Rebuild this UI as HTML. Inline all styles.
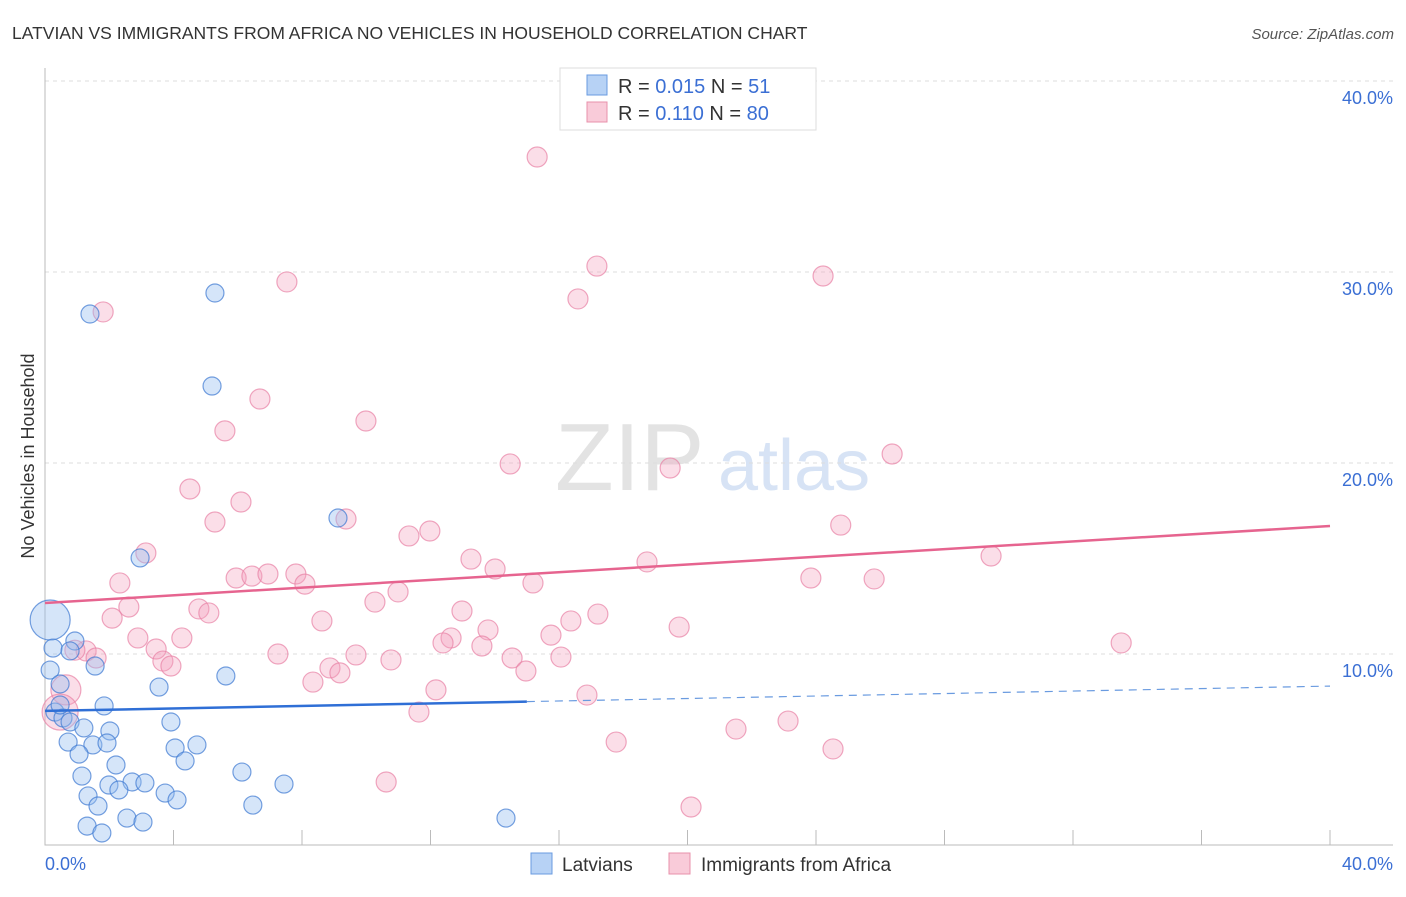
<!DOCTYPE html>
<html><head><meta charset="utf-8"><style>
body{margin:0;background:#fff;font-family:"Liberation Sans",sans-serif;}
svg text{font-family:"Liberation Sans",sans-serif;}
</style></head><body>
<svg id="chart" width="1406" height="892" viewBox="0 0 1406 892" xmlns="http://www.w3.org/2000/svg">
<text x="12" y="39" font-size="17.5" fill="#333">LATVIAN VS IMMIGRANTS FROM AFRICA NO VEHICLES IN HOUSEHOLD CORRELATION CHART</text>
<text x="1394" y="39" font-size="15" fill="#555" font-style="italic" text-anchor="end">Source: ZipAtlas.com</text>
<g>
<text x="555" y="490" font-size="96" fill="#e3e3e3" font-family="Liberation Serif">ZIP</text>
<text x="718" y="490" font-size="72" fill="#d7e3f5">atlas</text>
</g>
<g id="grid"></g>
<g id="axes"></g>
<g id="marks"></g>
<g>
<rect x="560" y="68" width="256" height="62" fill="#fff" stroke="#ddd"/>
<rect x="587" y="75" width="20" height="20" fill="#b7d2f5" stroke="#6a9be0"/>
<text x="618" y="93" font-size="20" fill="#333">R = <tspan fill="#3b6fd4">0.015</tspan>   N = <tspan fill="#3b6fd4"> 51</tspan></text>
<rect x="587" y="102" width="20" height="20" fill="#f9cbd9" stroke="#e890ab"/>
<text x="618" y="120" font-size="20" fill="#333">R = <tspan fill="#3b6fd4"> 0.110</tspan>   N = <tspan fill="#3b6fd4">80</tspan></text>
</g>
<g>
<rect x="531" y="853" width="21" height="21" fill="#b7d2f5" stroke="#6a9be0"/>
<text x="562" y="871" font-size="19" fill="#333">Latvians</text>
<rect x="669" y="853" width="21" height="21" fill="#f9cbd9" stroke="#e890ab"/>
<text x="701" y="871" font-size="19" fill="#333">Immigrants from Africa</text>
</g>
<text transform="translate(34,456) rotate(-90)" font-size="18" fill="#333" text-anchor="middle">No Vehicles in Household</text>
</svg>
<script>
const yTicks=[10,20,30,40];
const yTickLabels=["10.0%","20.0%","30.0%","40.0%"];
const xEndLabels=["0.0%","40.0%"];
const blueX=[1.40,5.29,5.20,9.12,2.96,0.16,0.25,0.93,0.78,0.16,1.56,0.47,3.55,5.63,1.84,0.31,0.56,0.78,1.21,2.02,3.92,0.72,1.49,1.93,4.73,4.05,1.06,2.21,4.36,1.15,6.13,1.99,2.71,3.11,1.34,2.30,3.74,7.44,4.11,1.65,6.47,2.55,14.35,1.31,3.05,1.77,0.47];
const blueY=[27.80,28.90,24.03,17.12,15.03,11.78,10.31,10.68,10.16,9.16,9.37,8.43,8.27,8.85,7.28,6.96,6.65,6.44,6.13,5.97,6.44,5.39,5.24,5.34,5.24,5.08,4.76,4.19,4.40,3.61,3.82,3.14,3.30,3.25,2.57,2.88,2.72,3.19,2.36,2.04,2.09,1.41,1.41,0.99,1.20,0.63,7.33];
const blueSize=[0,0,0,0,0,20,0,0,0,0,0,0,0,0,0,0,0,0,0,0,0,0,0,0,0,0,0,0,0,0,0,0,0,0,0,0,0,0,0,0,0,0,0,0,0,0,0];
const pinkX=[15.32,17.18,24.22,7.53,16.59,1.81,6.69,9.99,5.60,14.48,19.46,26.37,4.51,6.10,9.37,5.29,24.77,11.98,11.33,3.14,13.26,18.74,29.45,14.01,2.33,5.95,6.44,6.94,7.81,8.09,15.19,23.84,25.81,10.99,10.27,2.61,4.79,5.10,12.98,17.21,16.37,2.09,8.62,13.79,19.74,15.75,2.89,4.26,12.64,12.39,13.60,33.50,1.28,3.46,7.25,9.68,1.59,3.67,3.92,10.77,14.54,16.06,8.87,9.18,14.97,8.34,12.17,0.65,16.87,0.47,11.64,23.13,21.51,17.78,24.53,10.62,20.11,0.93];
const pinkY=[36.02,30.31,29.79,29.48,28.59,27.91,23.35,22.20,21.68,19.95,19.74,20.47,18.64,17.96,17.07,16.91,16.75,16.44,16.18,15.29,14.97,14.82,15.13,14.45,13.72,13.98,14.08,14.19,14.19,13.66,13.72,13.98,13.93,13.25,12.72,12.46,12.36,12.15,12.25,12.09,11.73,11.88,11.73,11.26,11.41,10.99,10.84,10.84,10.84,10.58,10.42,10.58,10.16,10.26,10.00,9.95,9.79,9.63,9.37,9.69,9.79,9.84,9.27,9.01,9.11,8.53,8.12,8.12,7.85,6.96,6.96,6.49,6.07,5.39,5.03,3.30,1.99,10.2];
const blueTrend=[7.02,8.32];
const blueSolidEnd=15;
const pinkTrend=[12.67,16.70];
const X=v=>45+v/40*1285;
const Y=v=>845-v*19.1;
const NS="http://www.w3.org/2000/svg";
function mk(parent,tag,attrs){const e=document.createElementNS(NS,tag);for(const k in attrs)e.setAttribute(k,attrs[k]);parent.appendChild(e);return e;}
const grid=document.getElementById('grid'),axes=document.getElementById('axes'),marks=document.getElementById('marks');
yTicks.forEach((t,i)=>{
 const l=mk(grid,'line',{x1:45,x2:1393,y1:Y(t),y2:Y(t),stroke:'#ddd','stroke-dasharray':'4,4'});
 
 
 const tx=mk(axes,'text',{x:1393,y:Y(t)+23,'font-size':18,fill:'#3b6fd4','text-anchor':'end'});
 tx.textContent=yTickLabels[i];
 
 
});
const ax=mk(axes,'path',{d:'M45 68V845H1393',fill:'none',stroke:'#bbb'});


for(let i=1;i<=10;i++){const t=mk(axes,'line',{x1:X(i*4),x2:X(i*4),y1:830,y2:845,stroke:'#bbb'});
 
 }
const x0=mk(axes,'text',{x:45,y:870,'font-size':18,fill:'#3b6fd4'});x0.textContent=xEndLabels[0];


const x1=mk(axes,'text',{x:1393,y:870,'font-size':18,fill:'#3b6fd4','text-anchor':'end'});x1.textContent=xEndLabels[1];


pinkX.forEach((v,i)=>{const r=(i==67)?15:(i==69?18:10);
 const c=mk(marks,'circle',{cx:X(v),cy:Y(pinkY[i]),r:r,fill:'rgba(244,160,188,0.35)',stroke:'rgba(232,130,165,0.7)','stroke-width':1.2});
 
 });
blueX.forEach((v,i)=>{const r=blueSize[i]||9;
 const c=mk(marks,'circle',{cx:X(v),cy:Y(blueY[i]),r:r,fill:'rgba(150,190,240,0.4)',stroke:'rgba(60,120,210,0.7)','stroke-width':1.2});
 
 });
const bAt=x=>blueTrend[0]+(blueTrend[1]-blueTrend[0])*x/40;
const bl=mk(marks,'line',{x1:X(0),y1:Y(bAt(0)),x2:X(blueSolidEnd),y2:Y(bAt(blueSolidEnd)),stroke:'#2f6fd6','stroke-width':2.5});


const bd=mk(marks,'line',{x1:X(blueSolidEnd),y1:Y(bAt(blueSolidEnd)),x2:X(40),y2:Y(bAt(40)),stroke:'#6a9be0','stroke-width':1.2,'stroke-dasharray':'8,6'});


const pl=mk(marks,'line',{x1:X(0),y1:Y(pinkTrend[0]),x2:X(40),y2:Y(pinkTrend[1]),stroke:'#e6648f','stroke-width':2.5});


</script>
</body></html>
